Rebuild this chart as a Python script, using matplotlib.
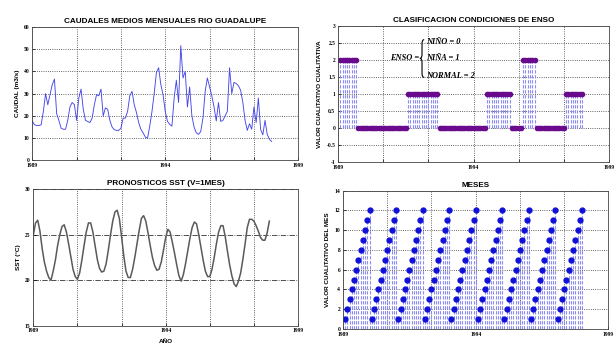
import numpy as np
import matplotlib
matplotlib.use('Agg')
import matplotlib.pyplot as plt
from matplotlib.path import Path
from matplotlib.patches import PathPatch

# Caudales medios mensuales (m3/s), enero 1989 en adelante
caudal = [17.7, 16, 15.7, 15.7, 16, 22, 30, 25, 29.5, 34,
          36.5, 21, 18, 14.5, 14, 14, 18, 24, 26, 25,
          18, 28, 32, 23, 18, 17.5, 17, 19, 25, 29.5,
          29, 32, 20, 23.6, 23, 18, 15, 13.8, 13.5, 13.5,
          14.5, 19, 19, 22, 29, 31, 25, 21.5, 17, 14,
          12.4, 10.5, 10, 15.4, 22, 30, 39.4, 41.6, 34, 29.5,
          22, 17.5, 16.2, 15.4, 28, 36, 26, 51.5, 37, 40,
          24, 33, 20, 15, 12.4, 11.7, 13, 19, 31, 37,
          33, 29, 24, 17.7, 26, 17.5, 18, 20, 22, 41.6,
          30, 35, 34.5, 33.5, 31.5, 26, 18, 13.5, 16.5, 14,
          24, 17, 28, 14, 11.5, 18, 11.7, 9.5, 8.5]

# Pronostico SST (C)
sst = [25.0, 26.3, 26.6, 25.4, 23.5, 22.0, 21.0, 20.3, 20.0, 21.0,
       22.2, 23.8, 25.0, 25.9, 26.1, 25.3, 24.0, 22.6, 21.2, 20.4,
       20.1, 20.8, 22.2, 23.8, 25.3, 26.3, 26.3, 25.3, 23.8, 22.3,
       21.3, 20.9, 21.0, 21.8, 23.3, 25.0, 26.5, 27.5, 27.7, 26.8,
       24.8, 22.7, 21.0, 20.3, 20.3, 21.2, 22.5, 24.0, 25.5, 26.8,
       27.1, 26.5, 25.2, 23.8, 22.5, 21.6, 21.1, 21.2, 22.0, 23.3,
       24.7, 25.6, 25.3, 24.2, 23.0, 21.7, 20.5, 19.9, 20.6, 21.8,
       23.2, 24.6, 25.8, 26.4, 26.2, 25.0, 23.6, 22.2, 21.0, 20.4,
       20.4, 21.2, 22.5, 24.0, 25.3, 26.0, 26.0, 24.8, 23.2, 21.7,
       20.5, 19.6, 19.3, 19.9, 20.8, 22.3, 24.0, 25.8, 26.7, 26.7,
       26.5, 26.0, 25.4, 24.7, 24.4, 24.4, 25.2, 26.5]

# Clasificacion ENSO por tramos: valor y numero de meses
enso_valor = [2, 0, 1, 0, 1, 0, 2, 0, 1]
enso_meses = [8, 22, 14, 21, 11, 5, 6, 13, 8]
enso = np.repeat(enso_valor, enso_meses)

# Mes del anio (1..12) durante 9 anios
mes_ciclo = [1, 2, 3, 4, 5, 6, 7, 8, 9, 10, 11, 12]
n_anios = 9
meses = np.tile(mes_ciclo, n_anios)

x_labels = ['1989', '', '', '1994', '', '', '1999']

title_font = dict(family='Liberation Sans', fontsize=5.9, fontweight='bold')
label_font = dict(family='Liberation Sans', fontsize=4.6, fontweight='bold')
tick_font = 'Liberation Serif'
stem_ls = (0, (3, 1.5))

fig = plt.figure(figsize=(6.16, 3.47), dpi=100)
fig.patch.set_facecolor('white')


def style_axes(ax):
    ax.set_xlim(0, 120)
    ax.set_xticks(np.arange(0, 121, 20))
    ax.set_xticklabels(x_labels)
    ax.tick_params(direction='in', length=2, width=0.5, labelsize=4, pad=2)
    for lab in ax.get_xticklabels() + ax.get_yticklabels():
        lab.set_family(tick_font)
        lab.set_fontweight('bold')
    for sp in ax.spines.values():
        sp.set_linewidth(0.6)
        sp.set_color('#444444')


# Caudales
ax1 = fig.add_axes([0.0524, 0.5375, 0.4318, 0.3856])
ax1.plot(np.arange(len(caudal)), caudal, color='#4646ea', lw=0.65)
ax1.set_ylim(0, 60)
ax1.set_yticks(np.arange(0, 61, 10))
style_axes(ax1)
ax1.grid(True, linestyle=':', color='#333333', lw=0.6)
ax1.set_title('CAUDALES MEDIOS MENSUALES RIO GUADALUPE', pad=3, **title_font)
ax1.set_ylabel('CAUDAL (m3/s)', labelpad=3, **label_font)

# ENSO
ax2 = fig.add_axes([0.5487, 0.5331, 0.4400, 0.3919])
x_mes = np.arange(1, len(enso) + 1)
ml, sl, bl = ax2.stem(x_mes, enso, linefmt='--', markerfmt='o', basefmt=' ')
sl.set_color('#8c8cf5')
sl.set_linewidth(0.8)
sl.set_linestyle(stem_ls)
plt.setp(ml, color='#6a0a8c', markersize=3)
ax2.set_ylim(-1, 3)
ax2.set_yticks(np.arange(-1, 3.01, 0.5))
ax2.set_yticklabels(['-1', '-0.5', '0', '0.5', '1', '1.5', '2', '2.5', '3'])
style_axes(ax2)
ax2.grid(True, linestyle=':', color='#333333', lw=0.6)
ax2.set_title('CLASIFICACION CONDICIONES DE ENSO', pad=3, **title_font)
ax2.set_ylabel('VALOR CUALITATIVO CUALITATIVA', labelpad=3, **label_font)

# llave de la definicion ENSO (en fraccion de ejes)
xr, xm, xl = 0.318, 0.310, 0.302
yt, ymid, yb = 0.900, 0.762, 0.622
verts = [(xr, yt), (xm, yt), (xm, yt - 0.03),
         (xm, ymid + 0.03),
         (xm, ymid), (xl, ymid),
         (xm, ymid), (xm, ymid - 0.03),
         (xm, yb + 0.03),
         (xm, yb), (xr, yb)]
codes = [Path.MOVETO, Path.CURVE3, Path.CURVE3, Path.LINETO,
         Path.CURVE3, Path.CURVE3, Path.CURVE3, Path.CURVE3,
         Path.LINETO, Path.CURVE3, Path.CURVE3]
ax2.add_patch(PathPatch(Path(verts, codes), transform=ax2.transAxes,
                        fill=False, lw=0.8, color='black'))
ann = dict(family='Liberation Serif', fontsize=6, fontweight='bold',
           style='italic', transform=ax2.transAxes)
ax2.text(0.298, 0.762, 'ENSO =', ha='right', va='center', **ann)
ax2.text(0.325, 0.886, 'NIÑO = 0', ha='left', va='center', **ann)
ax2.text(0.325, 0.762, 'NIÑA = 1', ha='left', va='center', **ann)
ax2.text(0.325, 0.636, 'NORMAL = 2', ha='left', va='center', **ann)

# SST
ax3 = fig.add_axes([0.0541, 0.0614, 0.4297, 0.3931])
ax3.plot(np.arange(len(sst)), sst, color='#5a5a5a', lw=1.1)
ax3.set_ylim(15, 30)
ax3.set_yticks([15, 20, 25, 30])
style_axes(ax3)
ax3.xaxis.grid(True, linestyle=':', color='#333333', lw=0.6)
ax3.yaxis.grid(True, linestyle='-.', color='#333333', lw=0.6)
ax3.set_title('PRONOSTICOS SST (V=1MES)', pad=3, **title_font)
ax3.set_ylabel('SST (°C)', labelpad=3, **label_font)
ax3.set_xlabel('AÑO', labelpad=4, **label_font)

# Meses
ax4 = fig.add_axes([0.5568, 0.0519, 0.4310, 0.3986])
x_mes4 = np.arange(1, len(meses) + 1)
ml, sl, bl = ax4.stem(x_mes4, meses, linefmt='--', markerfmt='o', basefmt=' ')
sl.set_color('#8c8cf5')
sl.set_linewidth(0.8)
sl.set_linestyle(stem_ls)
plt.setp(ml, color='#1010d8', markersize=3.5)
ax4.set_ylim(0, 14)
ax4.set_yticks(np.arange(0, 15, 2))
style_axes(ax4)
ax4.grid(True, linestyle=':', color='#333333', lw=0.6)
ax4.set_title('MESES', pad=3, **title_font)
ax4.set_ylabel('VALOR CUALITATIVO DEL MES', labelpad=3, **label_font)

fig.savefig('out.png', dpi=100, facecolor='white')
